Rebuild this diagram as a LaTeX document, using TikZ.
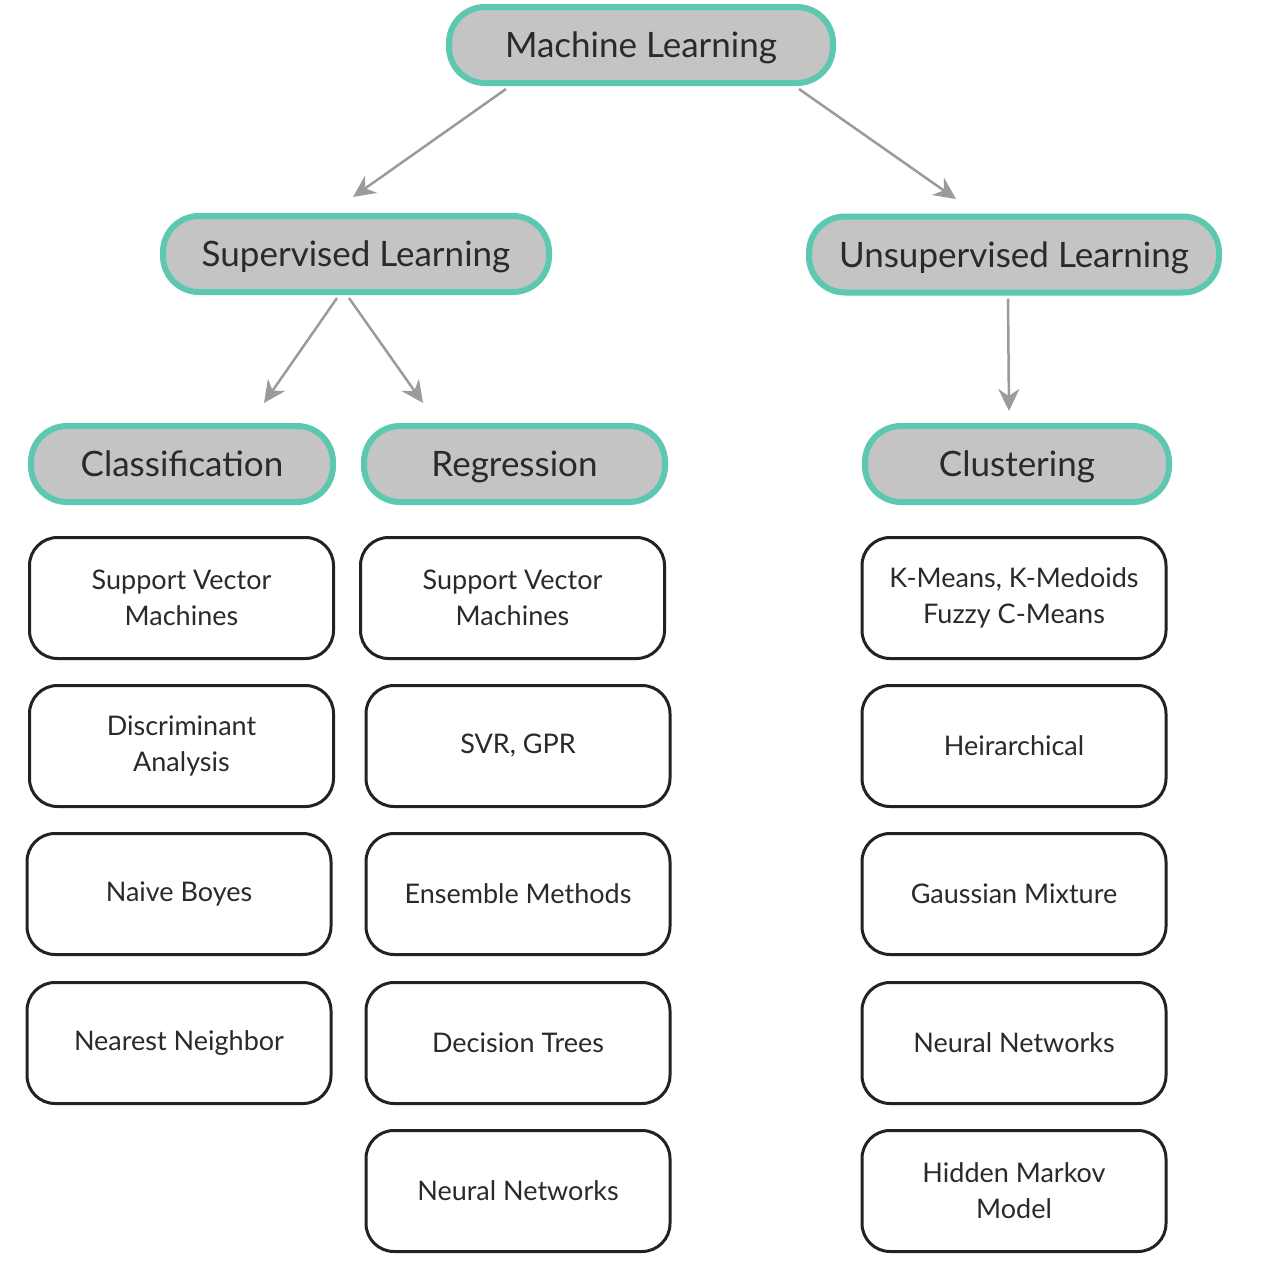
\documentclass[tikz,border=0pt]{standalone}
\usepackage{fontspec}
\setmainfont{Lato}
\usetikzlibrary{arrows.meta}
\definecolor{teal}{HTML}{5CC8B1}
\definecolor{hdrfill}{HTML}{C4C4C4}
\definecolor{txt}{HTML}{2A2A2A}
\definecolor{arr}{HTML}{9B9B9B}
\definecolor{bord}{HTML}{222222}
\begin{document}
\begin{tikzpicture}[x=1pt,y=-1pt,
  hdr/.style={draw=teal, line width=6pt, fill=hdrfill, rounded corners=36pt,
    text=txt, font=\fontsize{35}{40}\selectfont, minimum height=76pt, inner sep=0pt,
    text height=25pt, text depth=0pt},
  leaf/.style={draw=bord, line width=3pt, fill=white, rounded corners=28pt,
    text=txt, font=\fontsize{27}{36}\selectfont, align=center,
    minimum width=304pt, minimum height=121pt, inner sep=0pt},
  conn/.style={draw=arr, line width=2.5pt,
    -{Stealth[length=22pt,width=21pt,inset=7pt]}}]
\useasboundingbox (0,0) rectangle (1270,1264);

\node[hdr, minimum width=384pt] (ml) at (641,45) {Machine Learning};
\node[hdr, minimum width=386pt] (sup) at (356,254) {Supervised Learning};
\node[hdr, minimum width=410pt] (unsup) at (1014,254.5) {Unsupervised Learning};
\node[hdr, minimum width=302pt] (cls) at (182,464) {Classification};
\node[hdr, minimum width=301pt] (reg) at (514.5,464) {Regression};
\node[hdr, minimum width=304pt] (clu) at (1017,464) {Clustering};

\node[leaf] (c1) at (181.5,598) {Support Vector\\Machines};
\node[leaf] (c2) at (181.5,746) {Discriminant\\Analysis};
\node[leaf] (c3) at (179,894) {Naive Boyes};
\node[leaf] (c4) at (179,1043) {Nearest Neighbor};

\node[leaf] (r1) at (512.5,598) {Support Vector\\Machines};
\node[leaf] (r2) at (518,746) {SVR, GPR};
\node[leaf] (r3) at (518,894) {Ensemble Methods};
\node[leaf] (r4) at (518,1043) {Decision Trees};
\node[leaf] (r5) at (518,1191) {Neural Networks};

\node[leaf] (u1) at (1014,598) {K-Means, K-Medoids\\Fuzzy C-Means};
\node[leaf] (u2) at (1014,746) {Heirarchical};
\node[leaf] (u3) at (1014,894) {Gaussian Mixture};
\node[leaf] (u4) at (1014,1043) {Neural Networks};
\node[leaf] (u5) at (1014,1191) {Hidden Markov\\Model};

\coordinate (tSup) at (353,197);
\coordinate (tUns) at (956,199);
\coordinate (tCls) at (264,403);
\coordinate (tReg) at (423,403);
\coordinate (tClu) at (1009,411);

\draw[conn] ([xshift=-135pt,yshift=-3pt]ml.south) -- (tSup);
\draw[conn] ([xshift=158pt,yshift=-3pt]ml.south) -- (tUns);
\draw[conn] ([xshift=-19pt,yshift=-3pt]sup.south) -- (tCls);
\draw[conn] ([xshift=-7pt,yshift=-3pt]sup.south) -- (tReg);
\draw[conn] ([xshift=-6pt,yshift=-3pt]unsup.south) -- (tClu);
\end{tikzpicture}
\end{document}
